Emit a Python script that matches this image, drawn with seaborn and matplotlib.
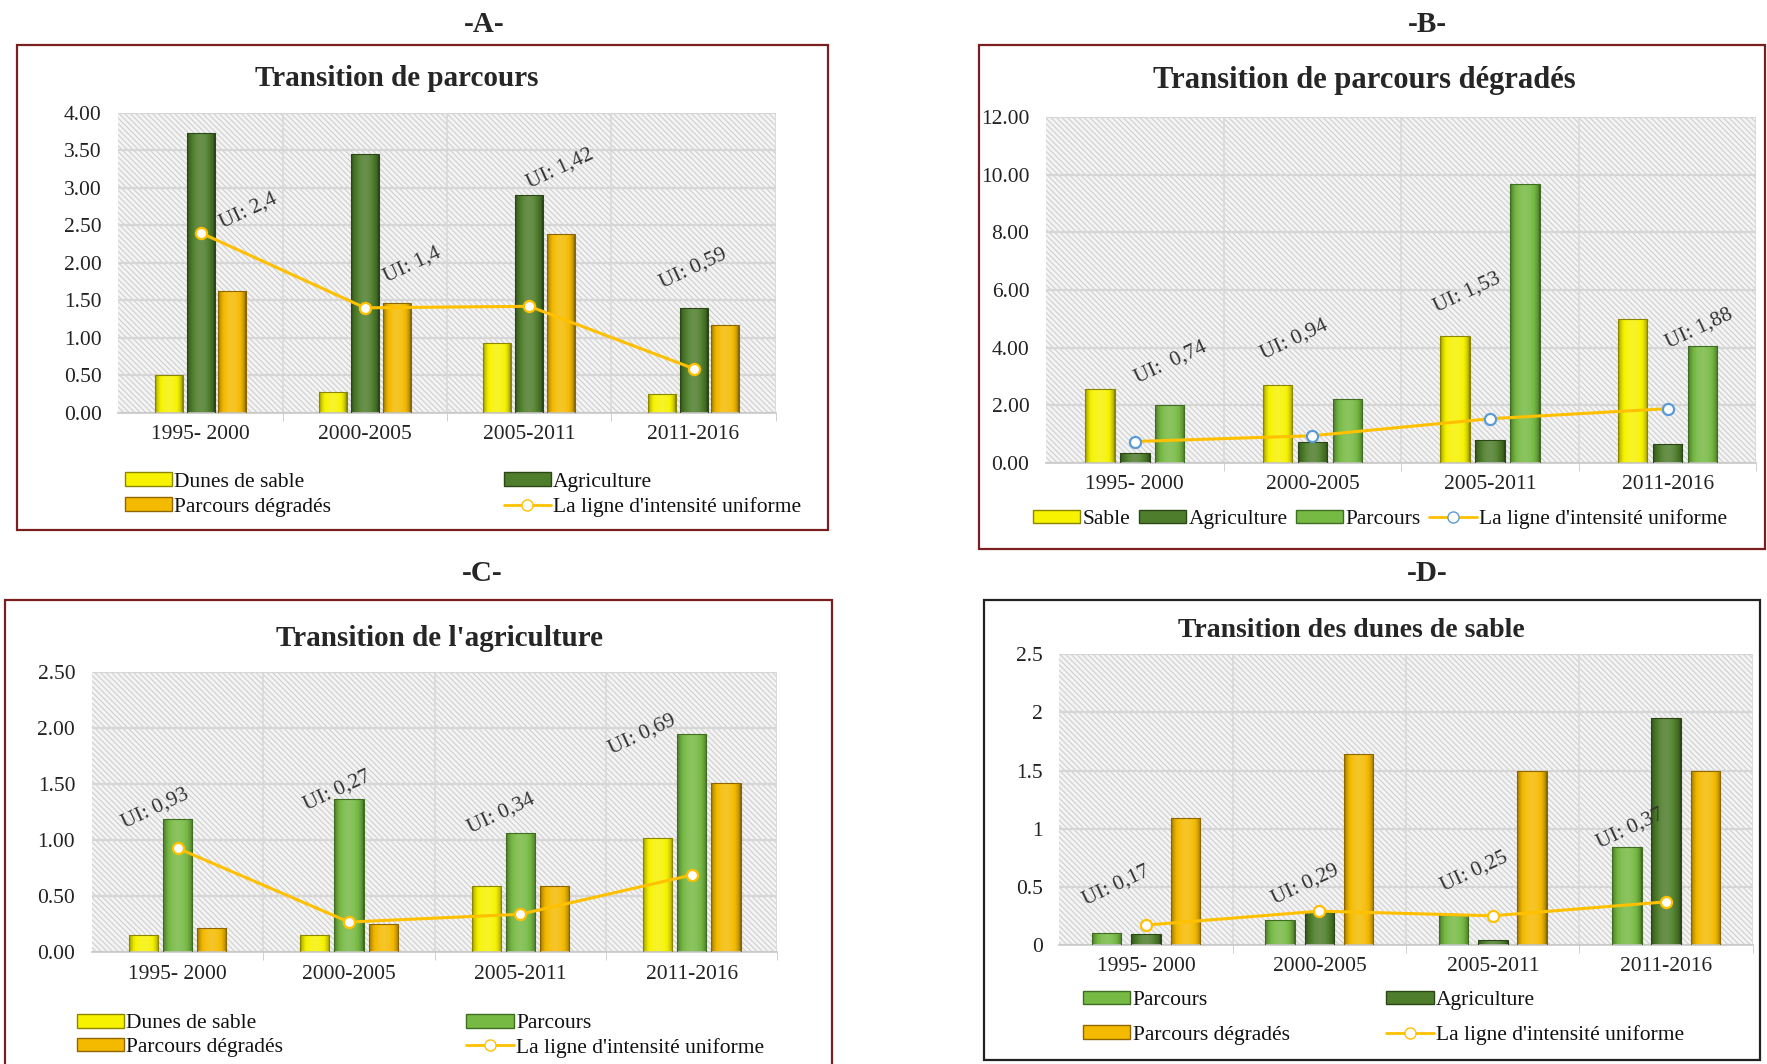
import numpy as np
import pandas as pd
import matplotlib
matplotlib.use("Agg")
import matplotlib.pyplot as plt
import matplotlib.colors as mcolors
from matplotlib.patches import Rectangle, Patch
from matplotlib.lines import Line2D
from matplotlib.ticker import FormatStrFormatter, FixedLocator
import seaborn as sns

# %% données
periodes = ["1995- 2000", "2000-2005", "2005-2011", "2011-2016"]

# A - Transition de parcours
a_sable = [0.50, 0.28, 0.93, 0.25]
a_agri = [3.73, 3.45, 2.90, 1.40]
a_degr = [1.62, 1.47, 2.38, 1.17]
a_ui = [2.40, 1.40, 1.42, 0.59]
a_ui_txt = ["UI: 2,4", "UI: 1,4", "UI: 1,42", "UI: 0,59"]

# B - Transition de parcours dégradés
b_sable = [2.55, 2.70, 4.40, 4.98]
b_agri = [0.35, 0.72, 0.78, 0.65]
b_parc = [2.00, 2.22, 9.68, 4.07]
b_ui = [0.74, 0.94, 1.53, 1.88]
b_ui_txt = ["UI:  0,74", "UI: 0,94", "UI: 1,53", "UI: 1,88"]

# C - Transition de l'agriculture
c_sable = [0.15, 0.15, 0.59, 1.02]
c_parc = [1.19, 1.37, 1.07, 1.95]
c_degr = [0.22, 0.25, 0.59, 1.51]
c_ui = [0.93, 0.27, 0.34, 0.69]
c_ui_txt = ["UI: 0,93", "UI: 0,27", "UI: 0,34", "UI: 0,69"]

# D - Transition des dunes de sable
d_parc = [0.10, 0.21, 0.26, 0.84]
d_agri = [0.09, 0.28, 0.04, 1.95]
d_degr = [1.09, 1.64, 1.50, 1.50]
d_ui = [0.17, 0.29, 0.25, 0.37]
d_ui_txt = ["UI: 0,17", "UI: 0,29", "UI: 0,25", "UI: 0,37"]

# position des étiquettes UI (x en catégories, y en unités de l'axe)
a_lab_pos = [(0.29, 2.69), (1.29, 1.97), (2.19, 3.25), (3.0, 1.92)]
b_lab_pos = [(0.20, 3.48), (0.90, 4.26), (1.87, 5.9), (3.18, 4.65)]
c_lab_pos = [(-0.13, 1.28), (0.93, 1.44), (1.89, 1.24), (2.71, 1.94)]
d_lab_pos = [(-0.17, 0.51), (0.92, 0.52), (1.89, 0.63), (2.79, 1.0)]

# couleurs
JAUNE = "#f6f200"
VERT_FONCE = "#4e7d2b"
VERT_CLAIR = "#76b943"
ORANGE = "#f4ba00"
LIGNE = "#ffc000"
BORDURE = {JAUNE: "#8a8600", VERT_FONCE: "#2b4617", VERT_CLAIR: "#3f6d22", ORANGE: "#8f6500"}

sns.set_style("white")
plt.rcParams["font.family"] = ["Liberation Serif", "DejaVu Serif"]
plt.rcParams["hatch.linewidth"] = 0.8
plt.rcParams["hatch.color"] = "#cfcfcf"

fig = plt.figure(figsize=(17.67, 10.64), dpi=100)


def bevel(ax, p, base):
    # dégradé horizontal pour imiter l'effet 3D des barres Excel
    x0, y0, w, h = p.get_x(), p.get_y(), p.get_width(), p.get_height()
    t = np.linspace(0, 1, 50)
    f = 0.5 + 0.65 * np.sin(np.pi * t) ** 0.5
    rgb = np.array(mcolors.to_rgb(base))
    cols = np.array([rgb * ff if ff <= 1 else rgb + (1 - rgb) * (ff - 1) for ff in f])
    img = ax.imshow(cols[None, :, :], extent=[x0, x0 + w, y0, y0 + h], aspect="auto",
                    zorder=2, interpolation="bilinear")
    img.set_clip_path(p)
    p.set_facecolor("none")
    p.set_zorder(3)


def panneau(rect, noms, valeurs, couleurs, ui, ui_txt, lab_pos, ymax, ystep, fmt,
            larg, gap, marker_edge):
    ax = fig.add_axes(rect)
    df = pd.DataFrame({"periode": periodes * len(noms),
                       "classe": np.repeat(noms, len(periodes)),
                       "val": np.concatenate(valeurs)})
    sns.barplot(data=df, x="periode", y="val", hue="classe", hue_order=noms,
                palette=dict(zip(noms, couleurs)), width=larg, gap=gap,
                saturation=1, legend=False, ax=ax, err_kws={"linewidth": 0})
    for cont, c in zip(ax.containers, couleurs):
        for p in cont.patches:
            p.set_edgecolor(BORDURE[c])
            p.set_linewidth(0.8)
            bevel(ax, p, c)
    sns.lineplot(x=periodes, y=ui, ax=ax, color=LIGNE, lw=2.2, marker="o", markersize=8,
                 markerfacecolor="white", markeredgecolor=marker_edge, markeredgewidth=1.6,
                 sort=False, zorder=6)
    for txt, (xx, yy) in zip(ui_txt, lab_pos):
        ax.text(xx, yy, txt, rotation=25, ha="center", va="center", fontsize=15.5,
                color="#333333", zorder=7)
    # fond hachuré
    ax.add_patch(Rectangle((0, 0), 1, 1, transform=ax.transAxes, facecolor="#f4f4f4",
                           edgecolor="#cfcfcf", lw=0, hatch="\\\\\\\\\\\\", zorder=0.1))
    ax.set_axisbelow(True)
    ax.yaxis.grid(True, color="#d6d6d6", lw=1.6, zorder=0.5)
    for xv in [0.5, 1.5, 2.5, 3.5]:
        ax.axvline(xv, color="#d9d9d9", lw=1.2, zorder=0.5)
    ax.set_xlim(-0.5, 3.5)
    ax.set_ylim(0, ymax)
    ax.set_yticks(np.arange(0, ymax + ystep / 2, ystep))
    ax.yaxis.set_major_formatter(FormatStrFormatter(fmt) if fmt else
                                 plt.FuncFormatter(lambda v, _: f"{v:g}"))
    ax.set_xlabel("")
    ax.set_ylabel("")
    for s in ["top", "right", "left"]:
        ax.spines[s].set_visible(False)
    ax.spines["bottom"].set_color("#c8c8c8")
    ax.spines["bottom"].set_linewidth(1.2)
    ax.xaxis.set_minor_locator(FixedLocator([0.5, 1.5, 2.5, 3.5]))
    ax.tick_params(axis="x", which="minor", length=6, color="#c8c8c8", bottom=True)
    ax.tick_params(axis="x", which="major", length=0, labelsize=15.5, pad=9, labelcolor="#222222")
    ax.tick_params(axis="y", length=0, labelsize=15.5, labelcolor="#222222", pad=12)
    return ax


def legende(noms, couleurs, marker_edge, loc_xy, ncol, colsp, lsp, ordre=None):
    handles = [Patch(facecolor=c, edgecolor=BORDURE[c], lw=1) for c in couleurs]
    handles.append(Line2D([], [], color=LIGNE, lw=2, marker="o", markersize=8,
                          markerfacecolor="white", markeredgecolor=marker_edge))
    labels = list(noms) + ["La ligne d'intensité uniforme"]
    if ordre is not None:
        handles = [handles[i] for i in ordre]
        labels = [labels[i] for i in ordre]
    fig.legend(handles, labels, loc="center", bbox_to_anchor=loc_xy, ncol=ncol,
               frameon=False, fontsize=15.5, handlelength=2.2, handleheight=0.6,
               handletextpad=0.1, columnspacing=colsp, labelspacing=lsp,
               labelcolor="#111111")


def cadre(x, y, w, h, couleur):
    fig.add_artist(Rectangle((x, y), w, h, transform=fig.transFigure, fill=False,
                             edgecolor=couleur, lw=1.6))


# %% A
noms_a = ["Dunes de sable", "Agriculture", "Parcours dégradés"]
panneau([0.067, 0.612, 0.372, 0.282], noms_a, [a_sable, a_agri, a_degr],
        [JAUNE, VERT_FONCE, ORANGE], a_ui, a_ui_txt, a_lab_pos, 4.0, 0.5, "%.2f",
        0.58, 0.12, LIGNE)
legende(noms_a, [JAUNE, VERT_FONCE, ORANGE], LIGNE, (0.262, 0.535), 2, 8.0, 0.25,
        ordre=[0, 2, 1, 3])
fig.text(0.2245, 0.926, "Transition de parcours", ha="center", va="center",
         fontsize=21, fontweight="bold")
cadre(0.0096, 0.502, 0.459, 0.456, "#7a1f1f")
fig.text(0.274, 0.977, "-A-", ha="center", va="center", fontsize=21, fontweight="bold")

# %% B
noms_b = ["Sable", "Agriculture", "Parcours"]
panneau([0.592, 0.565, 0.402, 0.325], noms_b, [b_sable, b_agri, b_parc],
        [JAUNE, VERT_FONCE, VERT_CLAIR], b_ui, b_ui_txt, b_lab_pos, 12.0, 2.0, "%.2f",
        0.59, 0.16, "#5b9bd5")
legende(noms_b, [JAUNE, VERT_FONCE, VERT_CLAIR], "#5b9bd5", (0.781, 0.512), 4, 0.4, 0.3)
fig.text(0.772, 0.924, "Transition de parcours dégradés", ha="center", va="center",
         fontsize=22, fontweight="bold")
cadre(0.554, 0.484, 0.445, 0.474, "#7a1f1f")
fig.text(0.808, 0.977, "-B-", ha="center", va="center", fontsize=21, fontweight="bold")

# %% C
noms_c = ["Dunes de sable", "Parcours", "Parcours dégradés"]
panneau([0.052, 0.105, 0.388, 0.263], noms_c, [c_sable, c_parc, c_degr],
        [JAUNE, VERT_CLAIR, ORANGE], c_ui, c_ui_txt, c_lab_pos, 2.5, 0.5, "%.2f",
        0.60, 0.15, LIGNE)
legende(noms_c, [JAUNE, VERT_CLAIR, ORANGE], LIGNE, (0.238, 0.0265), 2, 8.5, 0.2,
        ordre=[0, 2, 1, 3])
fig.text(0.249, 0.400, "Transition de l'agriculture", ha="center", va="center",
         fontsize=21, fontweight="bold")
cadre(0.003, -0.01, 0.468, 0.446, "#7a1f1f")
fig.text(0.273, 0.461, "-C-", ha="center", va="center", fontsize=21, fontweight="bold")

# %% D
noms_d = ["Parcours", "Agriculture", "Parcours dégradés"]
panneau([0.5995, 0.112, 0.3925, 0.273], noms_d, [d_parc, d_agri, d_degr],
        [VERT_CLAIR, VERT_FONCE, ORANGE], d_ui, d_ui_txt, d_lab_pos, 2.5, 0.5, None,
        0.68, 0.25, LIGNE)
legende(noms_d, [VERT_CLAIR, VERT_FONCE, ORANGE], LIGNE, (0.783, 0.0434), 2, 4.5, 0.7,
        ordre=[0, 2, 1, 3])
fig.text(0.765, 0.407, "Transition des dunes de sable", ha="center", va="center",
         fontsize=20, fontweight="bold")
cadre(0.557, 0.004, 0.439, 0.432, "#222222")
fig.text(0.808, 0.461, "-D-", ha="center", va="center", fontsize=21, fontweight="bold")

fig.savefig("out.png", dpi=100, facecolor="white")
